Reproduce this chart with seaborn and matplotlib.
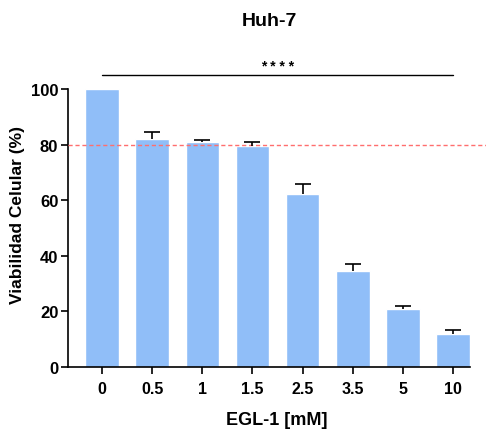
import numpy as np
import pandas as pd
import matplotlib
matplotlib.use("Agg")
import matplotlib.pyplot as plt
import seaborn as sns

# Data
concentrations = ["0", "0.5", "1", "1.5", "2.5", "3.5", "5", "10"]
viability = [100.0, 82.0, 81.0, 79.6, 62.2, 34.5, 20.9, 11.9]
sem = [0.0, 2.5, 0.5, 1.2, 3.7, 2.5, 0.9, 1.5]

df = pd.DataFrame({"conc": concentrations, "viab": viability, "sem": sem})

sns.set_style("ticks")
plt.rcParams['font.family'] = ['Liberation Sans', 'DejaVu Sans']
plt.rcParams['font.weight'] = 'bold'
plt.rcParams['text.color'] = 'black'
plt.rcParams['axes.labelcolor'] = 'black'
plt.rcParams['xtick.color'] = 'black'
plt.rcParams['ytick.color'] = 'black'
plt.rcParams['axes.edgecolor'] = 'black'

fig = plt.figure(figsize=(4.86, 4.35), dpi=100)
ax = fig.add_axes([68/486, 67/435, 402/486, 305.8/435])

sns.barplot(data=df, x="conc", y="viab", color="#90BEF8", saturation=1,
            width=0.67, errorbar=None, ax=ax)

# upward-only error bars (stem + top cap)
for i, (v, e) in enumerate(zip(df["viab"], df["sem"])):
    if e <= 0:
        continue
    ax.vlines(i, v, v + e, color="black", linewidth=1.2, zorder=4)
    ax.hlines(v + e, i - 0.16, i + 0.16, color="black", linewidth=1.2, zorder=4)

ax.set_ylim(0, 110)
ax.set_xlim(-0.68, 7.34)
ax.set_yticks([0, 20, 40, 60, 80, 100])
ax.spines["top"].set_visible(False)
ax.spines["right"].set_visible(False)
ax.spines["left"].set_bounds(0, 100)
ax.spines["left"].set_linewidth(1.2)
ax.spines["bottom"].set_linewidth(1.2)
ax.tick_params(axis="x", direction="out", length=5, width=1.2, labelsize=11.5, pad=5)
ax.tick_params(axis="y", direction="out", length=5, width=1.2, labelsize=12, pad=2)
for lab in ax.get_xticklabels() + ax.get_yticklabels():
    lab.set_fontweight("bold")

# 80% threshold
ax.axhline(80, xmin=0, xmax=1.04, color="#FF6E6E", linestyle=(0, (3, 2)),
           linewidth=1.0, clip_on=False, zorder=3)

# significance bar
ax.plot([0, 7], [104.9, 104.9], color="black", linewidth=1.0, clip_on=False)
ax.text(3.5, 105.8, "* * * *", ha="center", va="bottom", fontsize=10, fontweight="bold")

ax.set_xlabel("EGL-1 [mM]", fontsize=13, fontweight="bold")
ax.xaxis.set_label_coords(0.52, -0.145)
ax.set_ylabel("Viabilidad Celular (%)", fontsize=12.5, fontweight="bold", labelpad=4)
ax.set_title("Huh-7", fontsize=14, fontweight="bold", pad=26)

fig.savefig("out.png", dpi=100)
